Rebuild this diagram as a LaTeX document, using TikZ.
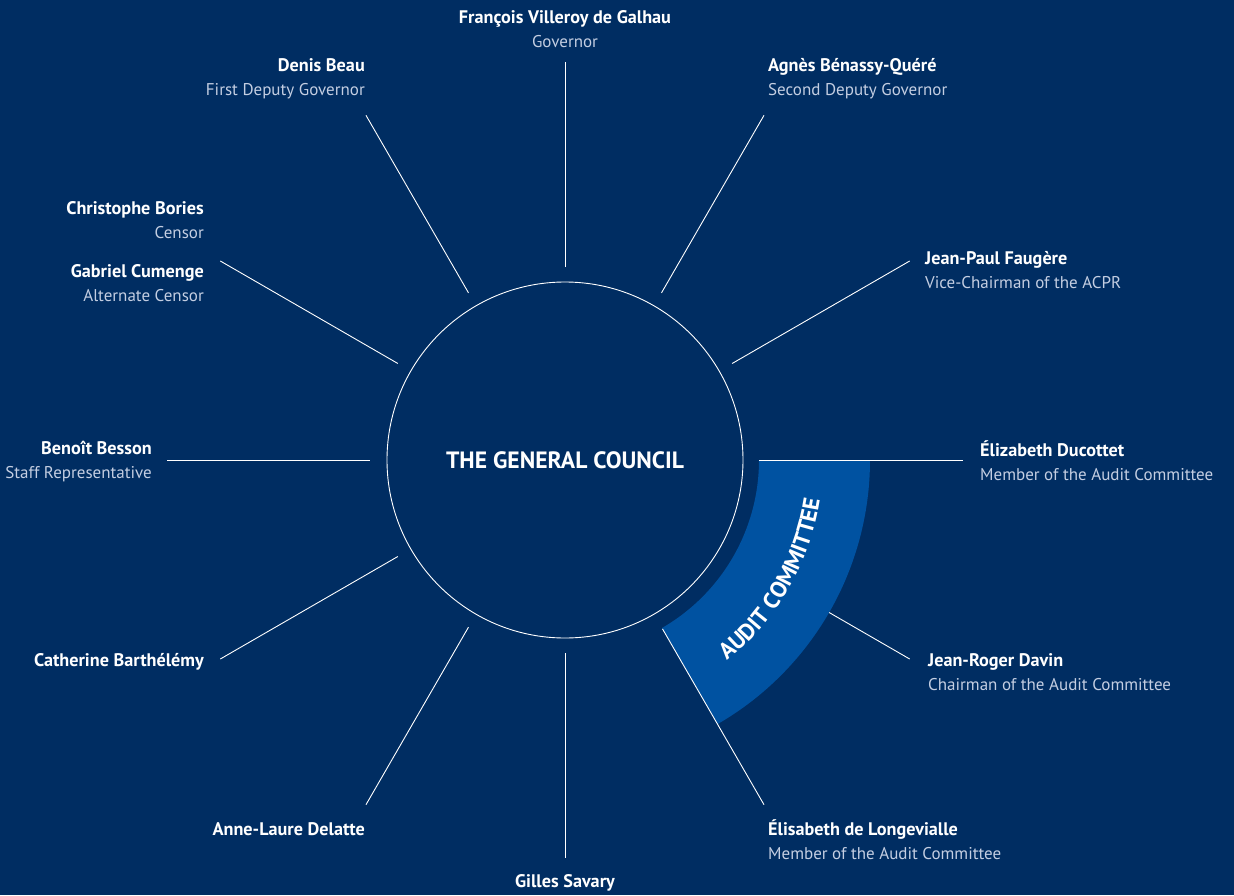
\documentclass[tikz,border=0pt]{standalone}
\usepackage{fontspec}
\setmainfont{PT Sans}
\usetikzlibrary{decorations.text}

\definecolor{navy}{RGB}{0,45,98}
\definecolor{auditblue}{RGB}{0,82,161}
\definecolor{rolegrey}{RGB}{196,206,226}

\tikzset{
    spoke/.style={white, line width=0.9pt},
    member/.style={text=white, inner sep=0pt, font=\fontsize{18.2}{20}\selectfont\bfseries},
    duty/.style={text=rolegrey, inner sep=0pt, font=\fontsize{17}{20}\selectfont},
}

\begin{document}
\begin{tikzpicture}[x=1pt, y=1pt]
        \fill[navy] (-565,-435) rectangle (669,460);
        \useasboundingbox (-565,-435) rectangle (669,460);

        % audit committee band
        \fill[auditblue] (0:194) arc[start angle=0, end angle=-60, radius=194]
            -- (-60:305) arc[start angle=-60, end angle=0, radius=305] -- cycle;
        \path[decorate, decoration={text along path, text align=center, text color=white,
            text={|\fontsize{23}{22}\selectfont\bfseries|AUDIT COMMITTEE}}]
            (-60:258) arc[start angle=-60, end angle=0, radius=258];

        % the council
        \node[draw=white, line width=0.9pt, circle, minimum size=356pt, text=white,
            font=\fontsize{23.6}{24}\selectfont\bfseries] (council) at (0,0) {THE GENERAL COUNCIL};

        % spokes
        \foreach \a/\r in {0/194, 30/193, 60/193, 90/193, 120/193, 150/193, 180/195,
                           210/193, 240/193, 270/193, 300/195, 330/305}{
            \coordinate (in\a) at (\a:\r);
            \coordinate (out\a) at (\a:398);
            \draw[spoke] (in\a) -- (out\a);
        }

        % members
        \node[member, anchor=base] (villeroy) at (0,436) {François Villeroy de Galhau};
        \node[duty, anchor=base] (villeroyrole) at (0,412) {Governor};

        \node[member, anchor=base east] (beau) at (-200,388) {Denis Beau};
        \node[duty, anchor=base east] (beaurole) at (-200,364) {First Deputy Governor};

        \node[member, anchor=base west] (benassy) at (203,388) {Agnès Bénassy-Quéré};
        \node[duty, anchor=base west] (benassyrole) at (203,364) {Second Deputy Governor};

        \node[member, anchor=base east] (bories) at (-361,246) {Christophe Bories};
        \node[duty, anchor=base east] (boriesrole) at (-361,222) {Censor};

        \node[member, anchor=base east] (cumenge) at (-361,183) {Gabriel Cumenge};
        \node[duty, anchor=base east] (cumengerole) at (-361,159) {Alternate Censor};

        \node[member, anchor=base west] (faugere) at (360,196) {Jean-Paul Faugère};
        \node[duty, anchor=base west] (faugererole) at (360,172) {Vice-Chairman of the ACPR};

        \node[member, anchor=base east] (besson) at (-413,6) {Benoît Besson};
        \node[duty, anchor=base east] (bessonrole) at (-413,-18) {Staff Representative};

        \node[member, anchor=base west] (ducottet) at (415,4) {Élizabeth Ducottet};
        \node[duty, anchor=base west] (ducottetrole) at (415,-20) {Member of the Audit Committee};

        \node[member, anchor=base east] (barthelemy) at (-361,-206) {Catherine Barthélémy};

        \node[member, anchor=base west] (davin) at (363,-206) {Jean-Roger Davin};
        \node[duty, anchor=base west] (davinrole) at (363,-230) {Chairman of the Audit Committee};

        \node[member, anchor=base east] (delatte) at (-200,-375) {Anne-Laure Delatte};

        \node[member, anchor=base west] (longevialle) at (203,-375) {Élisabeth de Longevialle};
        \node[duty, anchor=base west] (longevialllerole) at (203,-399) {Member of the Audit Committee};

        \node[member, anchor=base] (savary) at (0,-427) {Gilles Savary};
    \end{tikzpicture}
\end{document}
